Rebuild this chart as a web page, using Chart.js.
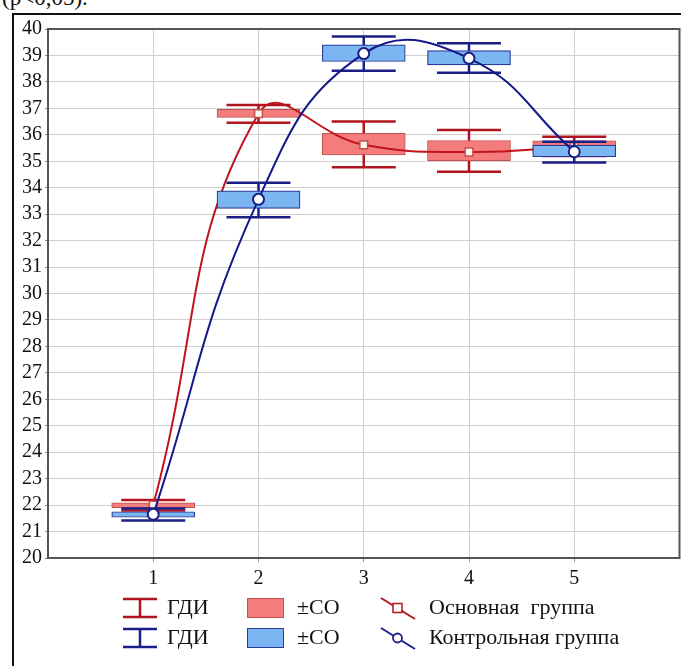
<!DOCTYPE html>
<html>
<head>
<meta charset="utf-8">
<script src="https://cdn.jsdelivr.net/npm/chart.js@4.4.1/dist/chart.umd.min.js"></script>
<style>
  html, body { margin: 0; padding: 0; background: #fff; }
  body { width: 681px; height: 666px; position: relative; overflow: hidden; font-family: "Liberation Serif", "DejaVu Serif", serif; }
  #frame { position: absolute; left: 12px; top: 13px; width: 700px; height: 700px; border-left: 2px solid #111; border-top: 2px solid #111; box-sizing: border-box; }
  #note { position: absolute; left: 2px; top: -15px; font-size: 23px; color: #111; }
  #wrap { position: absolute; left: 0; top: 0; width: 687px; height: 666px; }
  .lg { position: absolute; font-size: 22px; color: #111; white-space: nowrap; line-height: 22px; }
  .ic { position: absolute; }
</style>
</head>
<body>
<div id="note">(p&lt;0,05).</div>
<div id="frame"></div>
<div id="wrap"><canvas id="c" width="687" height="666"></canvas></div>

<!-- legend -->
<svg class="ic" style="left:120px;top:596px" width="40" height="24">
  <path d="M3 3 H37 M20 3 V21 M3 21 H37" stroke="#B0141E" stroke-width="2.5" fill="none"/>
</svg>
<div class="lg" style="left:167px;top:596px">ГДИ</div>
<svg class="ic" style="left:120px;top:626px" width="40" height="24">
  <path d="M3 3 H37 M20 3 V21 M3 21 H37" stroke="#1A1F86" stroke-width="2.5" fill="none"/>
</svg>
<div class="lg" style="left:167px;top:626px">ГДИ</div>

<svg class="ic" style="left:246px;top:596px" width="40" height="24">
  <rect x="1.5" y="2.5" width="36" height="19" fill="#F47C7C" stroke="#C0504D" stroke-width="1"/>
</svg>
<div class="lg" style="left:297px;top:596px">±СО</div>
<svg class="ic" style="left:246px;top:626px" width="40" height="24">
  <rect x="1.5" y="2.5" width="36" height="19" fill="#7CB6F2" stroke="#2A3A96" stroke-width="1"/>
</svg>
<div class="lg" style="left:297px;top:626px">±СО</div>

<svg class="ic" style="left:378px;top:594px" width="40" height="28">
  <path d="M3 4 L37 25" stroke="#B0141E" stroke-width="2" fill="none"/>
  <rect x="15" y="9.5" width="9" height="9" fill="#fff" stroke="#B0141E" stroke-width="1.5"/>
</svg>
<div class="lg" style="left:429px;top:596px">Основная&nbsp; группа</div>
<svg class="ic" style="left:378px;top:624px" width="40" height="28">
  <path d="M3 4 L37 25" stroke="#1A1F86" stroke-width="2" fill="none"/>
  <circle cx="19.5" cy="14" r="4.5" fill="#fff" stroke="#1A1F86" stroke-width="1.8"/>
</svg>
<div class="lg" style="left:429px;top:626px">Контрольная группа</div>

<script>
// Time points and tick labels
const timePoints = [1, 2, 3, 4, 5];
const yTicks = [20, 21, 22, 23, 24, 25, 26, 27, 28, 29, 30, 31, 32, 33, 34, 35, 36, 37, 38, 39, 40];

// Основная группа: mean, ±СО bounds, ГДИ bounds
const mainMean   = [22.00, 36.80, 35.62, 35.35, 35.55];
const mainSdLow  = [21.90, 36.66, 35.24, 35.02, 35.30];
const mainSdHigh = [22.09, 36.96, 36.06, 35.78, 35.77];
const mainCiLow  = [21.80, 36.46, 34.77, 34.60, 35.20];
const mainCiHigh = [22.19, 37.13, 36.50, 36.18, 35.93];

// Контрольная группа
const ctrlMean   = [21.65, 33.56, 39.07, 38.89, 35.36];
const ctrlSdLow  = [21.54, 33.22, 38.77, 38.64, 35.17];
const ctrlSdHigh = [21.75, 33.88, 39.40, 39.18, 35.61];
const ctrlCiLow  = [21.42, 32.88, 38.42, 38.35, 34.95];
const ctrlCiHigh = [21.87, 34.19, 39.72, 39.46, 35.74];

const RED_DARK = '#B0141E', RED_FILL = '#F47C7C', RED_EDGE = '#C0504D', RED_LINE = '#C0141C';
const BLUE_DARK = '#1A1F86', BLUE_FILL = '#7CB6F2', BLUE_EDGE = '#2A3A96', BLUE_LINE = '#14188A';

const boxData = (lo, hi) => timePoints.map((x, i) => ({ x, y: [lo[i], hi[i]] }));
const meanData = (m) => timePoints.map((x, i) => ({ x, y: m[i] }));

// Whisker (ГДИ) I-bars drawn just before each group's boxes
const whiskers = {
  id: 'whiskers',
  beforeDatasetDraw(chart, args) {
    const ds = chart.data.datasets[args.index];
    if (!ds.whisker) return;
    const { ctx, scales: { x, y } } = chart;
    const [lo, hi, color] = ds.whisker;
    ctx.save();
    ctx.strokeStyle = color;
    ctx.lineWidth = 2.5;
    const half = 32;
    timePoints.forEach((t, i) => {
      const px = x.getPixelForValue(t);
      const y1 = y.getPixelForValue(lo[i]);
      const y2 = y.getPixelForValue(hi[i]);
      ctx.beginPath();
      ctx.moveTo(px, y1); ctx.lineTo(px, y2);
      ctx.moveTo(px - half, y1); ctx.lineTo(px + half, y1);
      ctx.moveTo(px - half, y2); ctx.lineTo(px + half, y2);
      ctx.stroke();
    });
    ctx.restore();
  }
};

// Plot frame
const frame = {
  id: 'frame',
  afterDatasetsDraw(chart) {
    const { ctx, chartArea: a } = chart;
    ctx.save();
    ctx.strokeStyle = '#555';
    ctx.lineWidth = 2;
    ctx.strokeRect(a.left, a.top, a.right - a.left, a.bottom - a.top);
    ctx.restore();
  }
};

new Chart(document.getElementById('c'), {
  type: 'bar',
  data: {
    datasets: [
      { type: 'bar', label: '±СО', data: boxData(mainSdLow, mainSdHigh), backgroundColor: RED_FILL,
        borderColor: RED_EDGE, borderWidth: 1, borderSkipped: false, barThickness: 83, grouped: false,
        order: 4, whisker: [mainCiLow, mainCiHigh, RED_DARK] },
      { type: 'line', label: 'Основная группа', data: meanData(mainMean), borderColor: RED_LINE,
        borderWidth: 2, tension: 0.45, pointStyle: 'rect', pointRadius: 5.5, pointBorderWidth: 1.5,
        pointBackgroundColor: '#FFF6F0', pointBorderColor: RED_EDGE, order: 3 },
      { type: 'bar', label: '±СО', data: boxData(ctrlSdLow, ctrlSdHigh), backgroundColor: BLUE_FILL,
        borderColor: BLUE_EDGE, borderWidth: 1.2, borderSkipped: false, barThickness: 83, grouped: false,
        order: 2, whisker: [ctrlCiLow, ctrlCiHigh, BLUE_DARK] },
      { type: 'line', label: 'Контрольная группа', data: meanData(ctrlMean), borderColor: BLUE_LINE,
        borderWidth: 2, tension: 0.45, pointStyle: 'circle', pointRadius: 5.5, pointBorderWidth: 2,
        pointBackgroundColor: '#fff', pointBorderColor: BLUE_DARK, order: 1 }
    ]
  },
  options: {
    responsive: false,
    animation: false,
    events: [],
    layout: { padding: { left: 0, top: 29, right: 2, bottom: 64 } },
    plugins: { legend: { display: false }, tooltip: { enabled: false } },
    scales: {
      x: {
        type: 'linear', min: 0, max: 6, offset: false,
        afterBuildTicks(s) { s.ticks = timePoints.map(v => ({ value: v })); },
        afterFit(s) { s.height = 44; },
        grid: { offset: false, color: '#CFCFCF', lineWidth: 1, drawTicks: true, tickLength: 4, tickColor: '#999' },
        border: { display: false },
        ticks: { autoSkip: false, maxRotation: 0, color: '#111', padding: 5, font: { family: 'Liberation Serif', size: 20 } }
      },
      y: {
        min: 20, max: 40,
        afterBuildTicks(s) { s.ticks = yTicks.map(v => ({ value: v })); },
        afterFit(s) { s.width = 48; },
        grid: { color: '#CFCFCF', lineWidth: 1, drawTicks: true, tickLength: 3, tickColor: '#888' },
        border: { display: false },
        ticks: { autoSkip: false, color: '#111', padding: 3, font: { family: 'Liberation Serif', size: 20 } }
      }
    }
  },
  plugins: [whiskers, frame]
});
</script>
</body>
</html>
